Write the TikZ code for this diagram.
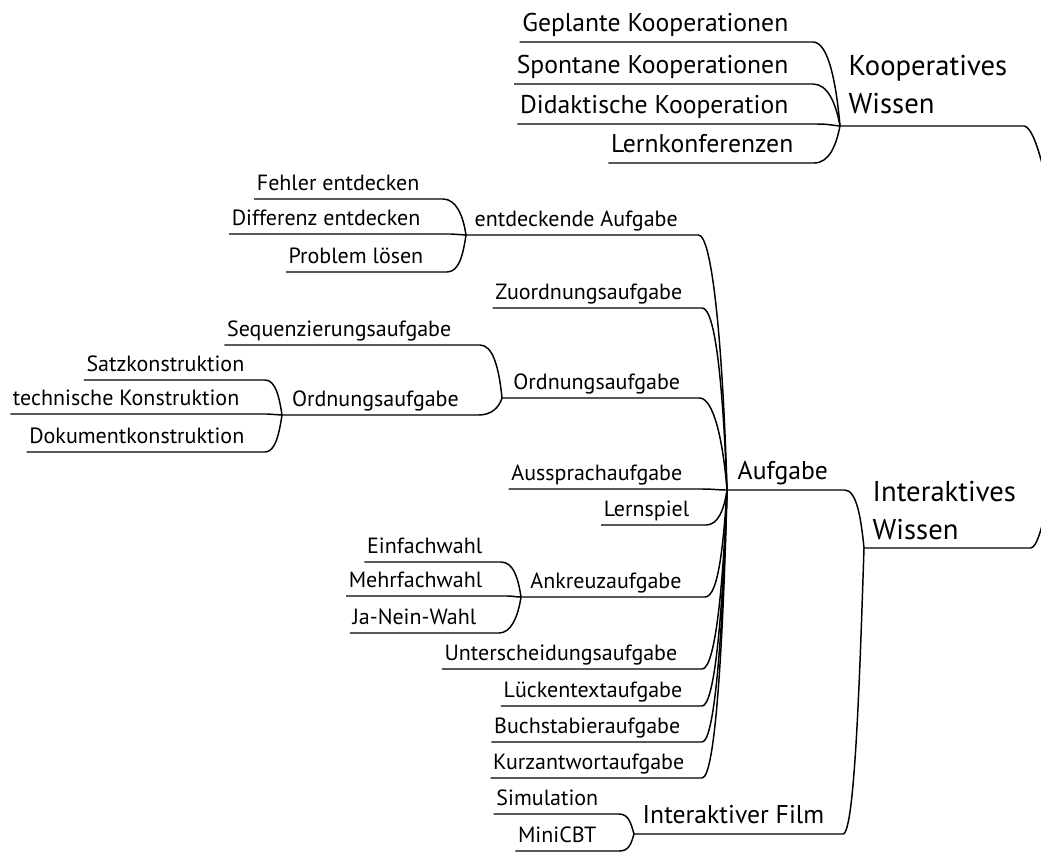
\documentclass[tikz,border=0pt]{standalone}
\usepackage{fontspec}
\setmainfont{PT Sans}
\tikzset{every picture/.style={line width=0.75pt}}
\tikzset{
  knoten/.style={inner xsep=1.5pt, inner ysep=5.5pt, text depth=0pt},
  ebeneA/.style={knoten, font=\fontsize{21.5}{28.5}\selectfont, align=left, inner xsep=6pt},
  ebeneB/.style={knoten, font=\fontsize{19.25}{24}\selectfont, inner ysep=7.5pt},
  ebeneC/.style={knoten, font=\fontsize{16.5}{20}\selectfont},
}
\begin{document}
\begin{tikzpicture}[
                x=0.75pt,
                y=0.75pt,
                yscale=-1,
                xscale=1,
                every node/.style={text=black},
                line width=1.1pt
            ]
                \useasboundingbox (0,0) rectangle (1041,853);
                \coordinate (wurzel) at (1062,336);

                % Kooperatives Wissen
                \node [ebeneA, anchor=south west, inner ysep=9pt] (koop) at (840,126) {Kooperatives\\Wissen};
                \node [ebeneB, anchor=south east] (geplant) at (791,42) {Geplante Kooperationen};
                \node [ebeneB, anchor=south east] (spontan) at (791,84) {Spontane Kooperationen};
                \node [ebeneB, anchor=south east] (didakt) at (791,124) {Didaktische Kooperation};
                \node [ebeneB, anchor=south east] (lernk) at (796,163) {Lernkonferenzen};

                % Interaktives Wissen
                \node [ebeneA, anchor=south west, inner ysep=6pt] (inter) at (864,548) {Interaktives\\Wissen};
                \node [ebeneB, anchor=south west, inner xsep=7.5pt] (aufg) at (727,490) {Aufgabe};
                \node [ebeneB, anchor=south west, inner xsep=6pt] (film) at (634,834) {Interaktiver Film};
                \node [ebeneC, anchor=south east] (simul) at (601,814) {Simulation};
                \node [ebeneC, anchor=south east] (minicbt) at (599,851) {MiniCBT};

                % Aufgabe
                \node [ebeneC, anchor=south west, inner xsep=6pt] (entd) at (466,235) {entdeckende Aufgabe};
                \node [ebeneC, anchor=south east] (fehler) at (422,199) {Fehler entdecken};
                \node [ebeneC, anchor=south east] (differenz) at (423,234) {Differenz entdecken};
                \node [ebeneC, anchor=south east] (problem) at (426,272) {Problem lösen};
                \node [ebeneC, anchor=south east] (zuord) at (685,308) {Zuordnungsaufgabe};
                \node [ebeneC, anchor=south west, inner xsep=8pt] (ordnung) at (502,398) {Ordnungsaufgabe};
                \node [ebeneC, anchor=south east] (sequenz) at (454,345) {Sequenzierungsaufgabe};
                \node [ebeneC, anchor=south west, inner xsep=7pt] (ordinnen) at (282,415) {Ordnungsaufgabe};
                \node [ebeneC, anchor=south east] (satz) at (247,380) {Satzkonstruktion};
                \node [ebeneC, anchor=south east] (technik) at (242,414) {technische Konstruktion};
                \node [ebeneC, anchor=south east] (dokument) at (247,452) {Dokumentkonstruktion};
                \node [ebeneC, anchor=south east] (aussprache) at (685,489) {Aussprachaufgabe};
                \node [ebeneC, anchor=south east] (lernspiel) at (692,525) {Lernspiel};
                \node [ebeneC, anchor=south west, inner xsep=6.5pt] (ankreuz) at (521,597) {Ankreuzaufgabe};
                \node [ebeneC, anchor=south east] (einfach) at (485,562) {Einfachwahl};
                \node [ebeneC, anchor=south east] (mehrfach) at (485,596) {Mehrfachwahl};
                \node [ebeneC, anchor=south east] (janein) at (479,633) {Ja-Nein-Wahl};
                \node [ebeneC, anchor=south east] (unterscheid) at (680,669) {Unterscheidungsaufgabe};
                \node [ebeneC, anchor=south east] (luecke) at (685,706) {Lückentextaufgabe};
                \node [ebeneC, anchor=south east] (buchst) at (683,742) {Buchstabieraufgabe};
                \node [ebeneC, anchor=south east] (kurz) at (687,778) {Kurzantwortaufgabe};

                % Aeste zur Wurzel
                \draw (koop.south west) -- (koop.south east) -- ++(8,0) .. controls +(14,0) and +(-3,-120) .. (wurzel);
                \draw (inter.south west) -- (inter.south east) -- ++(6,0) .. controls +(12,0) and +(-3,120) .. (wurzel);

                \draw (geplant.south west) -- (geplant.south east) -- ++(22,0) .. controls +(15,0) and +(-4,-45) .. (koop.south west);
                \draw (spontan.south west) -- (spontan.south east) -- ++(22,0) .. controls +(15,0) and +(-4,-22) .. (koop.south west);
                \draw (didakt.south west) -- (didakt.south east) -- ++(25,0) .. controls +(12,0) and +(-10,-1) .. (koop.south west);
                \draw (lernk.south west) -- (lernk.south east) -- ++(18,0) .. controls +(15,0) and +(-4,20) .. (koop.south west);

                \draw (aufg.south west) -- (aufg.south east) -- ++(6,0) .. controls +(12,0) and +(-3,-30) .. (inter.south west);
                \draw (film.south west) -- (film.south east) -- ++(10,0) .. controls +(12,0) and +(-4,120) .. (inter.south west);
                \draw (simul.south west) -- (simul.south east) -- ++(18,0) .. controls +(10,0) and +(-3,-10) .. (film.south west);
                \draw (minicbt.south west) -- (minicbt.south east) -- ++(20,0) .. controls +(10,0) and +(-3,10) .. (film.south west);

                \draw (entd.south west) -- (entd.south east) -- ++(12,0) .. controls +(14,0) and +(-4,-140) .. (aufg.south west);
                \draw (fehler.south west) -- (fehler.south east) -- ++(21,0) .. controls +(13,0) and +(-3,-20) .. (entd.south west);
                \draw (differenz.south west) -- (differenz.south east) -- ++(28,0) .. controls +(8,0) and +(-7,0) .. (entd.south west);
                \draw (problem.south west) -- (problem.south east) -- ++(21,0) .. controls +(12,0) and +(-3,20) .. (entd.south west);
                \draw (zuord.south west) -- (zuord.south east) -- ++(17,0) .. controls +(14,0) and +(-4,-100) .. (aufg.south west);
                \draw (ordnung.south west) -- (ordnung.south east) -- ++(8,0) .. controls +(14,0) and +(-4,-50) .. (aufg.south west);
                \draw (sequenz.south west) -- (sequenz.south east) -- ++(26,0) .. controls +(13,0) and +(-3,-30) .. (ordnung.south west);
                \draw (ordinnen.south west) -- (ordinnen.south east) -- ++(10,0) .. controls +(12,0) and +(-3,10) .. (ordnung.south west);
                \draw (satz.south west) -- (satz.south east) -- ++(18,0) .. controls +(10,0) and +(-3,-20) .. (ordinnen.south west);
                \draw (technik.south west) -- (technik.south east) -- ++(25,0) .. controls +(8,0) and +(-7,0) .. (ordinnen.south west);
                \draw (dokument.south west) -- (dokument.south east) -- ++(18,0) .. controls +(10,0) and +(-3,20) .. (ordinnen.south west);
                \draw (aussprache.south west) -- (aussprache.south east) -- ++(17,0) .. controls +(12,0) and +(-10,0) .. (aufg.south west);
                \draw (lernspiel.south west) -- (lernspiel.south east) -- ++(14,0) .. controls +(12,0) and +(-3,20) .. (aufg.south west);
                \draw (ankreuz.south west) -- (ankreuz.south east) -- ++(14,0) .. controls +(13,0) and +(-4,60) .. (aufg.south west);
                \draw (einfach.south west) -- (einfach.south east) -- ++(16,0) .. controls +(12,0) and +(-3,-20) .. (ankreuz.south west);
                \draw (mehrfach.south west) -- (mehrfach.south east) -- ++(22,0) .. controls +(8,0) and +(-7,0) .. (ankreuz.south west);
                \draw (janein.south west) -- (janein.south east) -- ++(20,0) .. controls +(12,0) and +(-3,20) .. (ankreuz.south west);
                \draw (unterscheid.south west) -- (unterscheid.south east) -- ++(22,0) .. controls +(13,0) and +(-4,100) .. (aufg.south west);
                \draw (luecke.south west) -- (luecke.south east) -- ++(17,0) .. controls +(13,0) and +(-4,120) .. (aufg.south west);
                \draw (buchst.south west) -- (buchst.south east) -- ++(19,0) .. controls +(13,0) and +(-4,140) .. (aufg.south west);
                \draw (kurz.south west) -- (kurz.south east) -- ++(15,0) .. controls +(13,0) and +(-4,160) .. (aufg.south west);
            \end{tikzpicture}
\end{document}
